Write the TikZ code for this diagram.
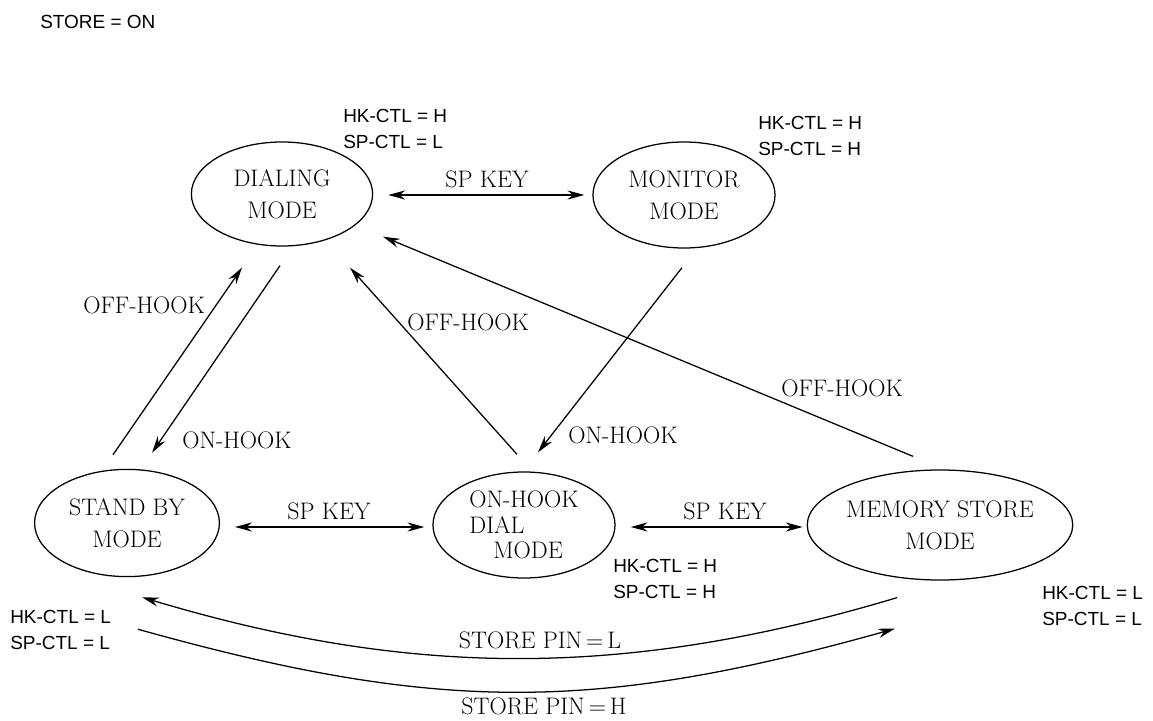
\documentclass[tikz,border=0pt]{standalone}
\usepackage{fontspec}
\newfontfamily\ctlfont{Liberation Sans}
\usetikzlibrary{shapes.geometric,arrows.meta}

\tikzset{
  mode/.style={ellipse, draw, line width=0.9pt, inner sep=0pt, align=center,
    font=\fontsize{17}{22.7}\selectfont},
  ctl/.style={font=\ctlfont\fontsize{13.5}{18.5}\selectfont, align=left, anchor=west, inner sep=0pt},
  evt/.style={font=\fontsize{17}{18}\selectfont, inner sep=0pt},
  trans/.style={line width=0.9pt, -{Stealth[length=12pt,width=6.5pt]}},
  both/.style={line width=0.9pt, {Stealth[length=12pt,width=6.5pt]}-{Stealth[length=12pt,width=6.5pt]}}
}

\begin{document}
\begin{tikzpicture}[x=0.025cm, y=-0.025cm]
  \useasboundingbox (0,0) rectangle (1153,721);
  \node[ctl] (store) at (40,22) {STORE = ON};

  % the five modes
  \node[mode, minimum width=4.53cm, minimum height=2.6cm] (dial) at (282,194) {DIALING\\MODE};
  \node[mode, minimum width=4.55cm, minimum height=2.65cm] (mon) at (684,195) {MONITOR\\MODE};
  \node[mode, minimum width=4.62cm, minimum height=2.68cm] (stby) at (127,523) {STAND BY\\MODE};
  \node[mode, minimum width=4.55cm, minimum height=2.65cm, align=left,
    font=\fontsize{17}{18.2}\selectfont] (ohd) at (524,525) {ON-HOOK\\DIAL\\\hspace*{0.6cm}MODE};
  \node[mode, minimum width=5.65cm, minimum height=2.75cm] (mem) at (940,525) {MEMORY STORE\\MODE};

  % output levels
  \node[ctl] (dialctl) at (343,129) {HK-CTL = H\\SP-CTL = L};
  \node[ctl] (monctl) at (758,136) {HK-CTL = H\\SP-CTL = H};
  \node[ctl] (ohdctl) at (613,579) {HK-CTL = H\\SP-CTL = H};
  \node[ctl] (memctl) at (1042,606) {HK-CTL = L\\SP-CTL = L};
  \node[ctl] (stbyctl) at (10,630) {HK-CTL = L\\SP-CTL = L};

  % transitions
  \draw[both] ([shift={(15,1)}]dial.east) -- ([shift={(-8,0)}]mon.west);
  \draw[both] ([shift={(15,4)}]stby.east) -- ([shift={(-8,2)}]ohd.west);
  \draw[both] ([shift={(15,2)}]ohd.east) -- ([shift={(-4,2)}]mem.west);
  \draw[trans] ([shift={(-14,-14)}]stby.north) -- ([shift={(-40,21)}]dial.south);
  \draw[trans] ([shift={(-2,19)}]dial.south) -- ([shift={(25,-16)}]stby.north);
  \draw[trans] ([shift={(-7,-17)}]ohd.north) -- ([shift={(68,21)}]dial.south);
  \draw[trans] ([shift={(-2,19)}]mon.south) -- ([shift={(14,-19)}]ohd.north);
  \draw[trans] ([shift={(-27,-13)}]mem.north) -- ([shift={(101,-10)}]dial.south);
  \draw[trans] ([shift={(-43,17)}]mem.south) .. controls +(-270,81) and +(270,81) .. ([shift={(15,20)}]stby.south);
  \draw[trans] ([shift={(11,52)}]stby.south) .. controls +(300,84) and +(-300,84) .. ([shift={(-45,48)}]mem.south);

  % events
  \node[evt] (spk1) at (487,179) {SP KEY};
  \node[evt] (spk2) at (329,511) {SP KEY};
  \node[evt] (spk3) at (725,511) {SP KEY};
  \node[evt] (off1) at (144,305) {OFF-HOOK};
  \node[evt] (on1) at (237,440) {ON-HOOK};
  \node[evt] (off2) at (468,322) {OFF-HOOK};
  \node[evt] (on2) at (623,435) {ON-HOOK};
  \node[evt] (off3) at (842,388) {OFF-HOOK};
  \node[evt] (pinl) at (540,640) {STORE PIN\,=\,L};
  \node[evt] (pinh) at (544,706) {STORE PIN\,=\,H};
\end{tikzpicture}
\end{document}
